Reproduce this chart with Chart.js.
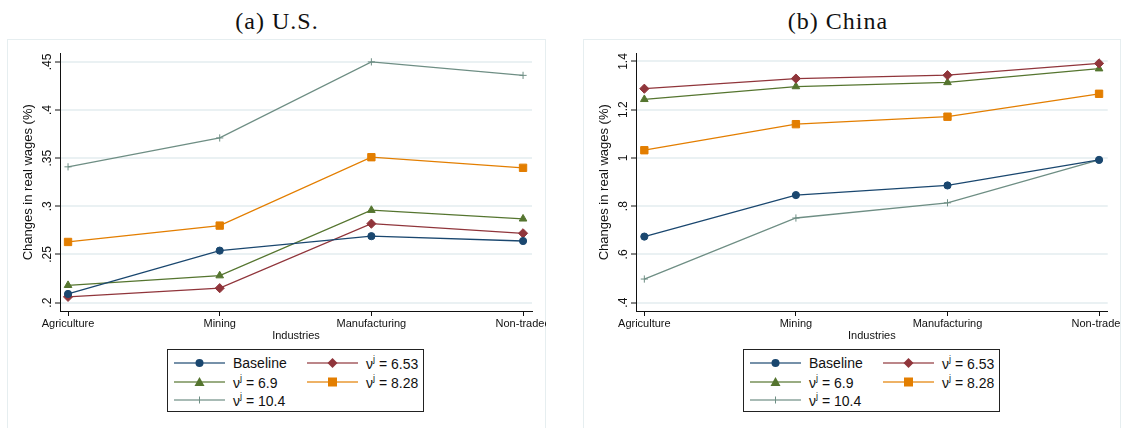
<!DOCTYPE html>
<html>
<head>
<meta charset="utf-8">
<script src="https://cdn.jsdelivr.net/npm/chart.js@4/dist/chart.umd.min.js"></script>
<style>
  html, body { margin:0; padding:0; background:#fff; }
  body { width:1124px; height:428px; position:relative; overflow:hidden; font-family:"Liberation Sans", Arial, sans-serif; }
  .title { position:absolute; top:6px; width:300px; text-align:center; font-family:"Liberation Serif", serif; font-size:24px; letter-spacing:1px; color:#111; line-height:30px; }
  .frame { position:absolute; top:39px; height:400px; border:1px solid #e6eef0; box-sizing:border-box; }
  .cwrap { position:absolute; top:39px; height:307px; }
  .legend { position:absolute; top:349px; width:257px; height:63px; border:1px solid #222; box-sizing:border-box; }
  .item { position:absolute; height:16px; display:flex; align-items:center; font-size:14px; color:#111; white-space:nowrap; }
  .item svg { margin-right:8px; }
  .item sup { font-size:9px; position:relative; top:-1px; }
</style>
</head>
<body>

<div class="title" style="left:127px;">(a) U.S.</div>
<div class="title" style="left:688px;">(b) China</div>

<div class="frame" style="left:7px;width:539px;"></div>
<div class="frame" style="left:583px;width:538px;"></div>

<div class="cwrap" style="left:7px;width:539px;"><canvas id="us"></canvas></div>
<div class="cwrap" style="left:583px;width:538px;"><canvas id="cn"></canvas></div>

<div class="legend" id="leg-us" style="left:167px;"></div>
<div class="legend" id="leg-cn" style="left:743px;"></div>

<script>
/* ── data ── */
var industries = ['Agriculture', 'Mining', 'Manufacturing', 'Non-traded'];
var seriesNames = ['Baseline', '6.53', '6.9', '8.28', '10.4'];

// U.S.
var usBaseline = [0.209, 0.254, 0.269, 0.264];
var us653      = [0.206, 0.215, 0.282, 0.272];
var us69       = [0.218, 0.228, 0.296, 0.287];
var us828      = [0.263, 0.280, 0.351, 0.340];
var us104      = [0.341, 0.371, 0.450, 0.436];
var usTicks    = [0.2, 0.25, 0.3, 0.35, 0.4, 0.45];

// China
var cnBaseline = [0.674, 0.846, 0.886, 0.992];
var cn653      = [1.287, 1.329, 1.343, 1.392];
var cn69       = [1.243, 1.296, 1.313, 1.370];
var cn828      = [1.032, 1.140, 1.171, 1.266];
var cn104      = [0.498, 0.751, 0.814, 0.992];
var cnTicks    = [0.4, 0.6, 0.8, 1, 1.2, 1.4];

/* ── style per series ── */
var colors  = ['#1a476f', '#90353b', '#55752f', '#e37e00', '#6e8e84'];
var shapes  = ['circle', 'rectRot', 'triangle', 'rect', 'cross'];
var radii   = [3.6, 4.6, 4.4, 5.2, 3.6];

function seriesLabel(i){
  return i === 0 ? seriesNames[0] : 'ν\u02B2 = ' + seriesNames[i];
}

function fmtTick(v){
  var s = v.toFixed(2).replace(/0+$/, '').replace(/\.$/, '');
  return s.replace(/^0\./, '.');
}

function makeDatasets(list){
  return list.map(function(vals, i){
    return {
      label: seriesLabel(i),
      data: vals.map(function(v, k){ return {x: k, y: v}; }),
      borderColor: colors[i],
      backgroundColor: colors[i],
      pointBackgroundColor: colors[i],
      pointBorderColor: colors[i],
      pointStyle: shapes[i],
      pointRadius: radii[i],
      pointBorderWidth: 1,
      borderWidth: 1.3,
      tension: 0
    };
  });
}

function makeChart(id, list, ticks, yMin, yMax, xMin, xMax, padRight){
  var ctx = document.getElementById(id).getContext('2d');
  return new Chart(ctx, {
    type: 'line',
    data: { datasets: makeDatasets(list) },
    options: {
      responsive: true,
      maintainAspectRatio: false,
      animation: false,
      layout: { padding: { left: 0, right: padRight, top: 14.5, bottom: 0 } },
      plugins: { legend: { display: false }, tooltip: { enabled: false } },
      scales: {
        x: {
          type: 'linear',
          min: xMin, max: xMax,
          afterBuildTicks: function(s){ s.ticks = industries.map(function(c, k){ return {value: k}; }); },
          afterFit: function(s){ s.height = 35; s.paddingLeft = 0; s.paddingRight = 0; },
          ticks: {
            autoSkip: false, maxRotation: 0, minRotation: 0, padding: 1,
            color: '#111', font: { family: 'Liberation Sans', size: 11 },
            callback: function(v){ return industries[v]; }
          },
          grid: { drawOnChartArea: false, drawTicks: true, tickLength: 5, tickColor: '#111', tickWidth: 1 },
          border: { color: '#111', width: 1 },
          title: { display: true, text: 'Industries', color: '#111', font: { family: 'Liberation Sans', size: 11 }, padding: { top: 0, bottom: 3 } }
        },
        y: {
          min: yMin, max: yMax,
          afterBuildTicks: function(s){ s.ticks = ticks.map(function(v){ return {value: v}; }); },
          afterFit: function(s){ s.width = 53; s.paddingTop = 0; s.paddingBottom = 0; },
          ticks: {
            minRotation: 90, maxRotation: 90, crossAlign: 'center', padding: -1,
            color: '#111', font: { family: 'Liberation Sans', size: 12 },
            callback: function(v){ return fmtTick(v); }
          },
          grid: { color: '#eaf1f3', lineWidth: 2, drawTicks: true, tickLength: 5, tickColor: '#111', tickWidth: 1 },
          border: { color: '#111', width: 1 },
          title: { display: true, text: 'Changes in real wages (%)', color: '#111', font: { family: 'Liberation Sans', size: 13 }, padding: { top: 14, bottom: 0 } }
        }
      }
    }
  });
}

makeChart('us', [usBaseline, us653, us69, us828, us104], usTicks, 0.1913, 0.4587, -0.053, 3.059, 14);
makeChart('cn', [cnBaseline, cn653, cn69, cn828, cn104], cnTicks, 0.3655, 1.433, -0.055, 3.057, 13.3);

/* ── Stata-style legend boxes ── */
function markerSvg(i){
  var c = colors[i], s = '';
  var cx = 25.5, cy = 6;
  s += '<line x1="0" y1="' + cy + '" x2="51" y2="' + cy + '" stroke="' + c + '" stroke-opacity="0.6" stroke-width="1.8"/>';
  if(shapes[i] === 'circle') s += '<circle cx="' + cx + '" cy="' + cy + '" r="4" fill="' + c + '"/>';
  if(shapes[i] === 'rectRot') s += '<polygon points="' + cx + ',' + (cy - 5) + ' ' + (cx + 5) + ',' + cy + ' ' + cx + ',' + (cy + 5) + ' ' + (cx - 5) + ',' + cy + '" fill="' + c + '"/>';
  if(shapes[i] === 'triangle') s += '<polygon points="' + cx + ',' + (cy - 5) + ' ' + (cx + 5) + ',' + (cy + 4) + ' ' + (cx - 5) + ',' + (cy + 4) + '" fill="' + c + '"/>';
  if(shapes[i] === 'rect') s += '<rect x="' + (cx - 4.5) + '" y="' + (cy - 4.5) + '" width="9" height="9" fill="' + c + '"/>';
  if(shapes[i] === 'cross') s += '<line x1="' + cx + '" y1="' + (cy - 3.5) + '" x2="' + cx + '" y2="' + (cy + 3.5) + '" stroke="' + c + '" stroke-width="1"/>';
  return '<svg width="51" height="12">' + s + '</svg>';
}

function renderLegend(id){
  var pos = [[6, 5], [139, 5], [6, 24], [139, 24], [6, 42]];
  var html = '';
  seriesNames.forEach(function(n, i){
    var lbl = i === 0 ? n : 'ν<sup>j</sup> = ' + n;
    html += '<div class="item" style="left:' + pos[i][0] + 'px;top:' + pos[i][1] + 'px;">' + markerSvg(i) + '<span>' + lbl + '</span></div>';
  });
  document.getElementById(id).innerHTML = html;
}
renderLegend('leg-us');
renderLegend('leg-cn');
</script>
</body>
</html>
